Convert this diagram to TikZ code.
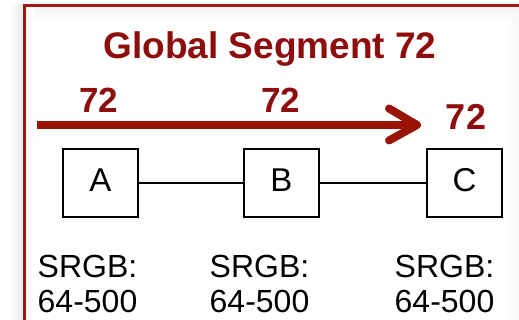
\documentclass[tikz,border=0pt]{standalone}
\usepackage{fontspec}
\setmainfont{Liberation Sans}
\begin{document}
\definecolor{segred}{HTML}{8E0E0E}
\definecolor{arrowred}{HTML}{9A1406}
\definecolor{framered}{HTML}{A0180E}
\begin{tikzpicture}[x=1pt,y=-1pt,
  title/.style={inner sep=0pt, text=segred, font=\fontsize{37}{40}\selectfont\bfseries},
  seglabel/.style={inner sep=0pt, text=segred, font=\fontsize{35}{38}\selectfont\bfseries},
  router/.style={draw=black, line width=1.5pt, fill=white, inner sep=0pt,
    minimum width=75pt, minimum height=68pt, text height=24pt, text depth=6pt,
    font=\fontsize{33}{36}\selectfont},
  info/.style={inner sep=0pt, anchor=base west, font=\fontsize{32}{35}\selectfont},
  link/.style={draw=black, line width=1.2pt},
  flow/.style={draw=arrowred, line width=8pt}]
  \useasboundingbox (0,0) rectangle (519,320);
  \clip (0,0) rectangle (519,320);
  \fill[white] (0,0) rectangle (519,320);

  % soft shadow around the panel
  \shade[left color=white, right color=black!9] (10,5) rectangle (23,320);
  \shade[top color=black!5, bottom color=white] (25,7) rectangle (519,22);
  \shade[left color=black!4, right color=white] (25,7) rectangle (34,320);
  \shade[left color=white, right color=black!3] (505,20) rectangle (519,320);

  % panel frame
  \draw[framered, line width=3pt] (24,5.3) rectangle (540,340);

  % heading
  \node[title, anchor=base] (head) at (270,59) {Global Segment 72};

  % propagation arrow
  \coordinate (flowstart) at (37,125);
  \coordinate (flowend) at (417,125);
  \coordinate (tipup) at (389,108.5);
  \coordinate (tipdown) at (389,140.5);
  \draw[flow, line cap=butt] (flowstart) -- (flowend);
  \draw[flow, line cap=round, line join=round] (tipup) -- (flowend) -- (tipdown);

  % segment values along the path
  \node[seglabel, anchor=base] (vala) at (99,113) {72};
  \node[seglabel, anchor=base] (valb) at (281,113) {72};
  \node[seglabel, anchor=base, font=\fontsize{36}{38}\selectfont\bfseries] (valc) at (466,129.5) {72};

  % routers
  \node[router] (A) at (100.5,183) {A};
  \node[router] (B) at (281.5,183) {B};
  \node[router] (C) at (464.5,183) {C};
  \draw[link] (A) -- (B);
  \draw[link] (B) -- (C);

  % SRGB ranges
  \node[info] (sa) at (37.5,277) {SRGB:};
  \node[info] (ra) at (37.5,312) {64-500};
  \node[info] (sb) at (209.5,277) {SRGB:};
  \node[info] (rb) at (209.5,312) {64-500};
  \node[info] (sc) at (394.5,277) {SRGB:};
  \node[info] (rc) at (394.5,312) {64-500};
\end{tikzpicture}
\end{document}
